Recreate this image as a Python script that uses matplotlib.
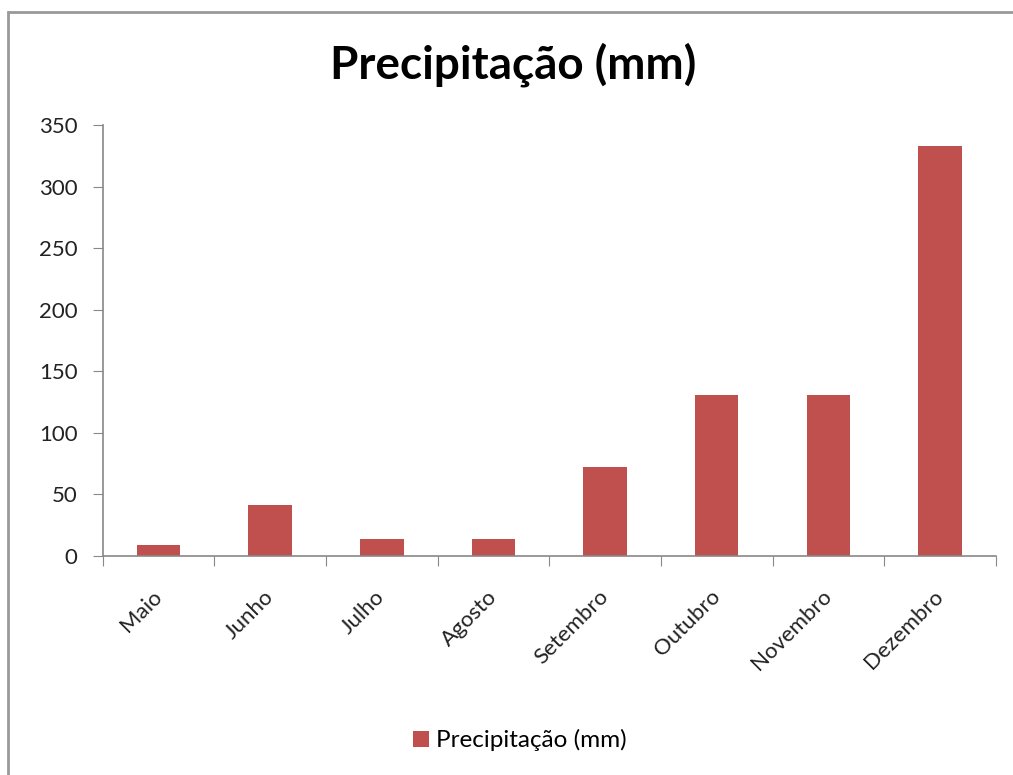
import matplotlib.pyplot as plt
from matplotlib.patches import Rectangle

meses = ['Maio', 'Junho', 'Julho', 'Agosto', 'Setembro', 'Outubro', 'Novembro', 'Dezembro']
precipitacao = [9, 41, 14, 14, 72, 131, 131, 333]
serie = 'Precipitação (mm)'

plt.rcParams['font.family'] = ['Lato', 'DejaVu Sans']

fig = plt.figure(figsize=(10.13, 7.75), dpi=100)
ax = fig.add_axes([0.1014, 0.2826, 0.8816, 0.5561])

cor = '#C0504D'
x = range(len(meses))
ax.bar(x, precipitacao, width=0.39, color=cor, label=serie)

ax.set_xlim(-0.5, len(meses) - 0.5)
ax.set_ylim(0, 350)
ax.set_yticks(range(0, 351, 50))
ax.set_xticks([i - 0.5 for i in range(len(meses) + 1)], minor=False)
ax.set_xticklabels([])
ax.set_xticks(list(x), minor=True)
ax.set_xticklabels(meses, minor=True, rotation=45, ha='right', va='center',
                   rotation_mode='anchor', fontsize=16, color='#222222')
ax.tick_params(axis='x', which='minor', length=0, pad=27)
ax.tick_params(axis='x', which='major', length=7, direction='out', color='#888888')
ax.tick_params(axis='y', length=7, color='#888888', labelsize=16, labelcolor='#222222', pad=11)

for lado in ['top', 'right']:
    ax.spines[lado].set_visible(False)
for lado in ['left', 'bottom']:
    ax.spines[lado].set_color('#888888')
    ax.spines[lado].set_linewidth(1.2)

fig.text(0.507, 0.917, serie, ha='center', va='center', fontsize=33, fontweight='bold')

fig.legend(loc='center', bbox_to_anchor=(0.513, 0.045), frameon=False, fontsize=17.5,
           handlelength=0.65, handleheight=0.65, handletextpad=0.3)

# moldura cinza do gráfico
fig.patches.append(Rectangle((0.008, -0.1), 1.1, 1.0845, transform=fig.transFigure,
                             fill=False, edgecolor='#999999', linewidth=2))

fig.savefig('out.png', dpi=100)
